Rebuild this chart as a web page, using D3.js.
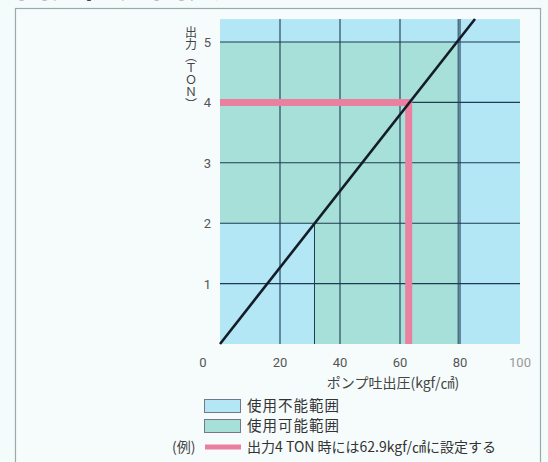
<!DOCTYPE html>
<html>
<head>
    <meta charset="utf-8">
    <script src="https://d3js.org/d3.v7.min.js"></script>
    <style>
        body {
            margin: 0;
            background: #f4fbfb;
            font-family: 'Noto Sans CJK JP', 'Noto Sans', sans-serif;
        }
        svg { display: block; }
    </style>
</head>
<body>
    <div id="chart"></div>
    <script>
        // chart data
        const xTicks = [20, 40, 60, 80, 100];
        const yTicks = [1, 2, 3, 4, 5];
        const outputLine = [[0, 0], [85, 5.38]];
        const usableArea = [[0, 2], [31.5, 2], [31.5, 0], [79.4, 0], [79.4, 5], [0, 5]];
        const examplePath = [[0, 4], [62.9, 4], [62.9, 0]];
        const yTitle = '出力（ＴＯＮ）';
        const legendItems = ['使用不能範囲', '使用可能範囲'];
        const exampleText = '出力4 TON 時には62.9kgf/㎠に設定する';

        const width = 548, height = 462;
        const blue = '#b3e7f5', green = '#a6e0d8', pink = '#ea7f9f', gridColor = '#1e3a55';

        const svg = d3.select('#chart').append('svg')
            .attr('width', width)
            .attr('height', height);

        const x = d3.scaleLinear().domain([0, 100]).range([220, 520]);
        const y = d3.scaleLinear().domain([0, 5]).range([344, 42]);
        const yTop = 5.38;

        // page heading (cut off at the top) and frame
        svg.append('text')
            .attr('x', 16).attr('y', -3)
            .attr('font-size', 34).attr('font-weight', 'bold')
            .attr('fill', '#111')
            .text('出力能力図表');
        svg.append('rect')
            .attr('x', 15.5).attr('y', 8.5)
            .attr('width', 525).attr('height', 470)
            .attr('fill', '#f6fcfc').attr('stroke', '#9aa').attr('stroke-width', 1.2);

        // plot background (unusable)
        svg.append('rect')
            .attr('x', x(0)).attr('y', y(yTop))
            .attr('width', x(100) - x(0)).attr('height', y(0) - y(yTop))
            .attr('fill', blue);

        // usable area
        svg.append('path')
            .datum(usableArea)
            .attr('d', d3.line().x(d => x(d[0])).y(d => y(d[1])))
            .attr('fill', green);

        // boundary lines of usable area
        svg.append('line')
            .attr('x1', x(31.5)).attr('x2', x(31.5)).attr('y1', y(0)).attr('y2', y(2))
            .attr('stroke', gridColor).attr('stroke-width', 1);
        svg.append('line')
            .attr('x1', x(79.4)).attr('x2', x(79.4)).attr('y1', y(0)).attr('y2', y(yTop))
            .attr('stroke', gridColor).attr('stroke-width', 1);

        // grid
        const grid = svg.append('g');
        grid.selectAll('line.v').data(xTicks.filter(d => d < 100)).enter().append('line')
            .attr('x1', d => x(d)).attr('x2', d => x(d))
            .attr('y1', y(0)).attr('y2', y(yTop))
            .attr('stroke', gridColor).attr('stroke-width', 1.1);
        grid.selectAll('line.h').data(yTicks).enter().append('line')
            .attr('x1', x(0)).attr('x2', x(100))
            .attr('y1', d => y(d)).attr('y2', d => y(d))
            .attr('stroke', gridColor).attr('stroke-width', 1.1);

        // example path (pink)
        svg.append('path')
            .datum(examplePath)
            .attr('d', d3.line().x(d => x(d[0])).y(d => y(d[1])))
            .attr('fill', 'none')
            .attr('stroke', pink).attr('stroke-width', 7)
            .attr('stroke-linejoin', 'miter');

        // output line
        svg.append('path')
            .datum(outputLine)
            .attr('d', d3.line().x(d => x(d[0])).y(d => y(d[1])))
            .attr('fill', 'none')
            .attr('stroke', '#141c28').attr('stroke-width', 2.6);

        // x tick labels
        svg.append('g').selectAll('text').data(xTicks).enter().append('text')
            .attr('x', d => x(d)).attr('y', 367)
            .attr('text-anchor', 'middle')
            .attr('font-size', 13)
            .attr('fill', d => d === 100 ? '#999' : '#555')
            .style('font-family', 'Roboto, sans-serif')
            .text(d => d);
        svg.append('text')
            .attr('x', 203).attr('y', 367)
            .attr('text-anchor', 'middle')
            .attr('font-size', 13).attr('fill', '#555')
            .style('font-family', 'Roboto, sans-serif')
            .text('0');

        // y tick labels
        svg.append('g').selectAll('text').data(yTicks).enter().append('text')
            .attr('x', 211).attr('y', d => y(d) + 5)
            .attr('text-anchor', 'end')
            .attr('font-size', 13).attr('fill', '#555')
            .style('font-family', 'Roboto, sans-serif')
            .text(d => d);

        // y axis title (vertical)
        svg.append('text')
            .attr('x', 191).attr('y', 26)
            .attr('writing-mode', 'vertical-rl')
            .style('text-orientation', 'mixed')
            .attr('font-size', 12).attr('fill', '#444')
            .text(yTitle);

        // x axis title
        svg.append('text')
            .attr('x', 393).attr('y', 388)
            .attr('text-anchor', 'middle')
            .attr('font-size', 14).attr('fill', '#444')
            .text('ポンプ吐出圧(kgf/㎠)');

        // legend
        const legend = svg.append('g');
        legend.selectAll('rect').data(legendItems).enter().append('rect')
            .attr('x', 204.5).attr('y', (d, i) => 399.5 + i * 20)
            .attr('width', 36).attr('height', 13)
            .attr('fill', (d, i) => i === 0 ? blue : green)
            .attr('stroke', '#778').attr('stroke-width', 1);
        legend.selectAll('text').data(legendItems).enter().append('text')
            .attr('x', 247).attr('y', (d, i) => 411 + i * 20)
            .attr('font-size', 14.5).attr('fill', '#333')
            .attr('letter-spacing', 1)
            .text(d => d);
        legend.append('text')
            .attr('x', 172).attr('y', 452)
            .attr('font-size', 14).attr('fill', '#444')
            .text('(例)');
        legend.append('line')
            .attr('x1', 205).attr('x2', 241).attr('y1', 447).attr('y2', 447)
            .attr('stroke', pink).attr('stroke-width', 5);
        legend.append('text')
            .attr('x', 247).attr('y', 452)
            .attr('font-size', 14).attr('fill', '#333')
            .text(exampleText);
    </script>
</body>
</html>
